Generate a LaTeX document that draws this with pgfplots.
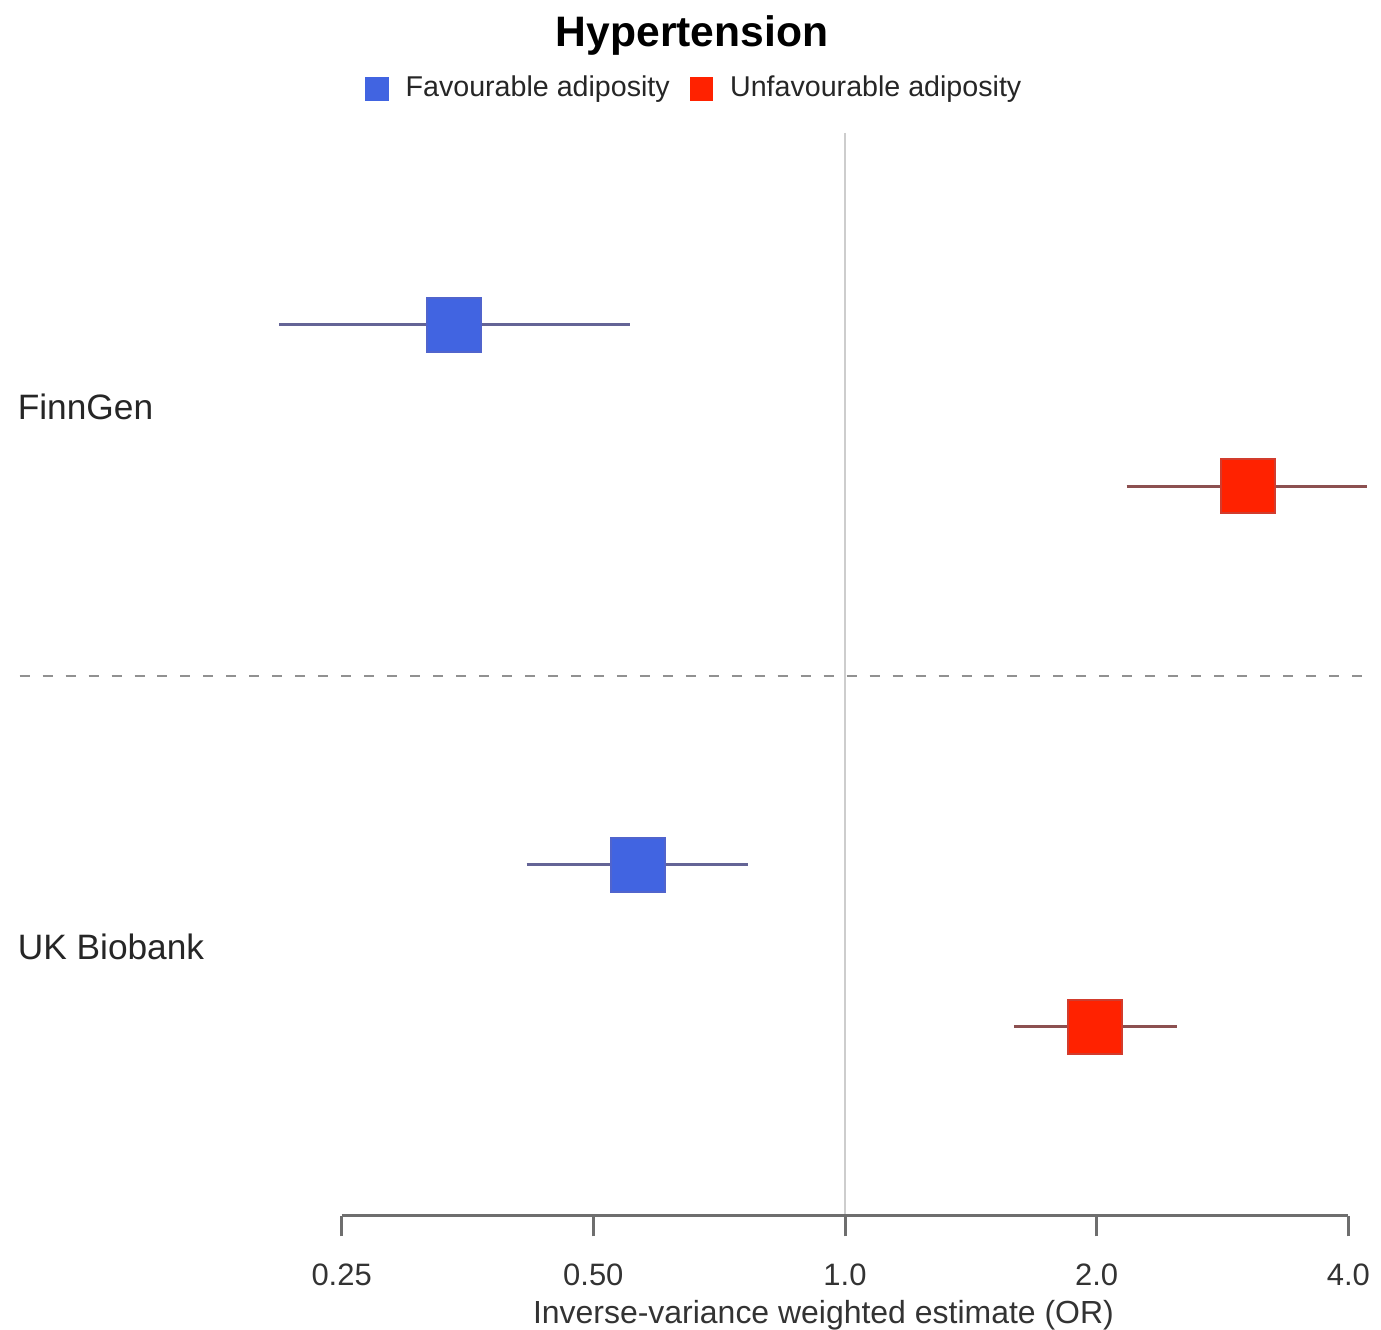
\documentclass[border=0pt]{standalone}
\usepackage{pgfplots}
\pgfplotsset{compat=1.18}
\usepackage{fontspec}
\setmainfont{Liberation Sans}
\definecolor{favfill}{RGB}{65,100,225}
\definecolor{favedge}{RGB}{80,100,205}
\definecolor{favline}{RGB}{100,100,150}
\definecolor{unffill}{RGB}{255,34,0}
\definecolor{unfedge}{RGB}{210,60,45}
\definecolor{unfline}{RGB}{140,80,80}
\definecolor{axgray}{RGB}{110,110,110}
\definecolor{refgray}{RGB}{205,205,205}
\definecolor{dashgray}{RGB}{145,145,145}
\begin{document}
\begin{tikzpicture}
\begin{axis}[
  scale only axis,
  width=414.3pt, height=365.1pt,
  xmode=log, log basis x=2,
  xmin=0.09757, xmax=4.356,
  ymin=-1217, ymax=0,
  axis line style={draw=none},
  xtick={0.25,0.5,1,2,4},
  xticklabels={0.25,0.50,1.0,2.0,4.0},
  ytick=\empty,
  xtick pos=left,
  tick align=outside,
  major tick length=6.3pt,
  major tick style={axgray, line width=0.9pt},
  xticklabel style={font=\fontsize{9.3}{11}\selectfont, text=black!80, yshift=-4.8pt},
  /pgf/number format/assume math mode=true,
  xlabel={Inverse-variance weighted estimate (OR)},
  xlabel style={at={(axis description cs:0.597,-0.0887)}, anchor=base, font=\fontsize{9.6}{11}\selectfont, text=black!80, inner sep=0pt},
  every axis title shift=0pt,
  title={Hypertension},
  title style={at={(axis description cs:0.5018,0.9614)}, anchor=base, font=\bfseries\fontsize{12.8}{15}\selectfont, inner sep=0pt},
  legend style={at={(axis description cs:0.5051,0.9267)}, anchor=center, draw=none, fill=none,
    font=\fontsize{8.6}{10}\selectfont, legend columns=2, text=black!85,
    /tikz/every even column/.append style={column sep=4pt}},
  clip=false,
]
% reference line at OR = 1
\addplot[refgray, line width=0.5pt, forget plot] coordinates {(1,-133) (1,-1217)};
% separator between studies
\addplot[dashgray, line width=0.8pt, dash pattern=on 3pt off 3.9pt, forget plot] coordinates {(0.1030,-677) (4.227,-677)};
% x axis line
\addplot[axgray, line width=0.9pt, forget plot] coordinates {(0.25,-1217) (4,-1217)};
% confidence intervals
\addplot[favline, line width=0.9pt, forget plot] coordinates {(0.2105,-325) (0.553,-325)};
\addplot[favline, line width=0.9pt, forget plot] coordinates {(0.416,-866) (0.766,-866)};
\addplot[unfline, line width=0.9pt, forget plot] coordinates {(2.172,-487) (4.214,-487)};
\addplot[unfline, line width=0.9pt, forget plot] coordinates {(1.592,-1028) (2.492,-1028)};
% point estimates
\addplot[only marks, mark=square*, mark size=8.1pt, mark options={fill=favfill, draw=favedge, line width=0.6pt},
  legend image code/.code={\fill[favfill] (0pt,-3.3pt) rectangle (6.6pt,3.3pt); \path[draw=none,fill=none] (0pt,0pt) rectangle (9.9pt,0.1pt);}]
  coordinates {(0.341,-325) (0.566,-866)};
\addlegendentry{Favourable adiposity}
\addplot[only marks, mark=square*, mark size=8.1pt, mark options={fill=unffill, draw=unfedge, line width=0.6pt},
  legend image code/.code={\fill[unffill] (0pt,-3.3pt) rectangle (6.6pt,3.3pt); \path[draw=none,fill=none] (0pt,0pt) rectangle (9.9pt,0.1pt);}]
  coordinates {(3.03,-487) (1.989,-1028)};
\addlegendentry{Unfavourable adiposity}
% study labels
\node[anchor=base west, inner sep=0pt, font=\fontsize{10.6}{12}\selectfont, text=black!85] at (axis cs:0.1023,-420) {FinnGen};
\node[anchor=base west, inner sep=0pt, font=\fontsize{10.6}{12}\selectfont, text=black!85] at (axis cs:0.1023,-961) {UK Biobank};
\end{axis}
\end{tikzpicture}
\end{document}
